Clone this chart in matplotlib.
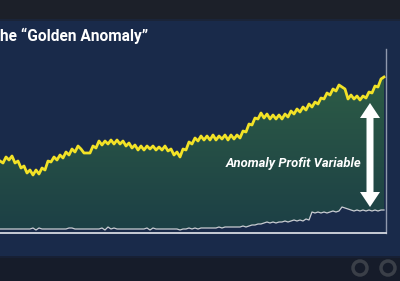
import numpy as np
import matplotlib.pyplot as plt
from matplotlib.patches import FancyArrow, Rectangle, Circle
from matplotlib.colors import LinearSegmentedColormap

### Data (one value every 3 px) ###
STEP = 3
gold_line = [72, 70, 76, 73, 77, 70, 72, 65, 67, 60,
             63, 58, 63, 59, 65, 63, 72, 71, 76, 73,
             78, 75, 81, 78, 84, 81, 87, 84, 80, 80,
             80, 87, 85, 92, 88, 92, 89, 93, 89, 93,
             89, 92, 87, 90, 85, 88, 83, 87, 83, 87,
             84, 87, 83, 86, 83, 87, 82, 84, 78, 81,
             76, 84, 83, 91, 89, 95, 92, 97, 93, 97,
             93, 98, 93, 97, 94, 98, 93, 98, 94, 98,
             95, 102, 101, 109, 108, 115, 114, 120, 115, 119,
             114, 118, 114, 118, 114, 119, 116, 122, 119, 124,
             121, 126, 123, 129, 126, 131, 129, 135, 134, 140,
             138, 144, 142, 148, 146, 144, 134, 138, 134, 137,
             133, 137, 135, 141, 140, 147, 146, 154, 156]
base_line = [4, 4, 4, 4, 4, 4, 4, 4, 4, 4,
             4, 5, 3, 5, 4, 4, 4, 4, 4, 4,
             4, 4, 4, 5, 5, 4, 4, 4, 4, 4,
             4, 4, 4, 4, 5, 3, 6, 4, 5, 4,
             4, 4, 4, 4, 4, 4, 4, 4, 4, 5,
             3, 5, 4, 4, 4, 4, 4, 4, 4, 4,
             3, 4, 4, 5, 4, 5, 4, 5, 5, 5,
             5, 5, 5, 6, 5, 6, 6, 6, 6, 6,
             6, 7, 6, 7, 8, 8, 9, 9, 10, 11,
             10, 11, 10, 11, 11, 12, 11, 12, 13, 12,
             13, 12, 14, 13, 21, 20, 21, 20, 21, 20,
             21, 22, 21, 22, 26, 25, 24, 23, 22, 23,
             22, 23, 22, 23, 22, 23, 22, 23, 23]
title = "he \u201cGolden Anomaly\u201d"
label = "Anomaly Profit Variable"
arrow_x = 370
arrow_low, arrow_high = 26, 130

x = np.arange(len(gold_line)) * STEP
gold = np.array(gold_line, dtype=float)
base = np.array(base_line, dtype=float)

### Figure ###
W, H = 400, 281
fig = plt.figure(figsize=(W / 100, H / 100), dpi=100)
fig.patch.set_facecolor('#192a4a')

# background decoration
bg = fig.add_axes([0, 0, 1, 1])
bg.set_xlim(0, W)
bg.set_ylim(H, 0)
bg.axis('off')
bg.add_patch(Rectangle((0, 0), W, 19, color='#1c2029', lw=0))
bg.add_patch(Rectangle((0, 19), W, 2, color='#1a2438', lw=0))
bg.add_patch(Rectangle((0, 258), W, H - 258, color='#161c2a', lw=0))
bg.add_patch(Rectangle((0, 256), W, 2, color='#172035', lw=0))
for cx in (360, 388):
    bg.add_patch(Circle((cx, 268), 7, fill=False, ec='#3a3f48', lw=2.5))

bg.text(0, 36, title, fontsize=11.2, fontfamily='Roboto', fontweight='bold',
        color='white', ha='left', va='center')

# chart
ax = fig.add_axes([0, 48 / H, 386 / W, 184 / H])
ax.set_facecolor('none')
ax.set_xlim(0, 386)
ax.set_ylim(0, 184)
ax.set_xticks([])
ax.set_yticks([])
for s in ('left', 'top'):
    ax.spines[s].set_visible(False)
ax.spines['bottom'].set_color('#d5d9e0')
ax.spines['bottom'].set_linewidth(1.3)
ax.spines['right'].set_color('#8f99ad')
ax.spines['right'].set_linewidth(1.0)

area = ax.fill_between(x, base, gold, color='none', lw=0)
grad = np.linspace(1, 0, 200).reshape(-1, 1)
cmap = LinearSegmentedColormap.from_list('g', ['#1c3f45', '#2e5e46'])
img = ax.imshow(grad, cmap=cmap, extent=[0, 386, 0, 170], aspect='auto',
                origin='upper', zorder=1)
img.set_clip_path(area.get_paths()[0], transform=ax.transData)

ax.plot(x, base, color='#c9ccd2', lw=0.9, zorder=3)
ax.plot(x, gold, color='#f2e227', lw=2.0, zorder=3)

mid = (arrow_low + arrow_high) / 2
half = (arrow_high - arrow_low) / 2
for d in (1, -1):
    ax.add_patch(FancyArrow(arrow_x, mid, 0, d * half, width=7, head_width=20,
                            head_length=15, length_includes_head=True,
                            color='white', lw=0, zorder=4))

ax.text(294, 70, label, fontsize=9.4, fontfamily='Roboto', fontweight='bold',
        fontstyle='italic', color='white', ha='center', va='center', zorder=5)

fig.savefig('out.png', dpi=100, facecolor=fig.get_facecolor())
